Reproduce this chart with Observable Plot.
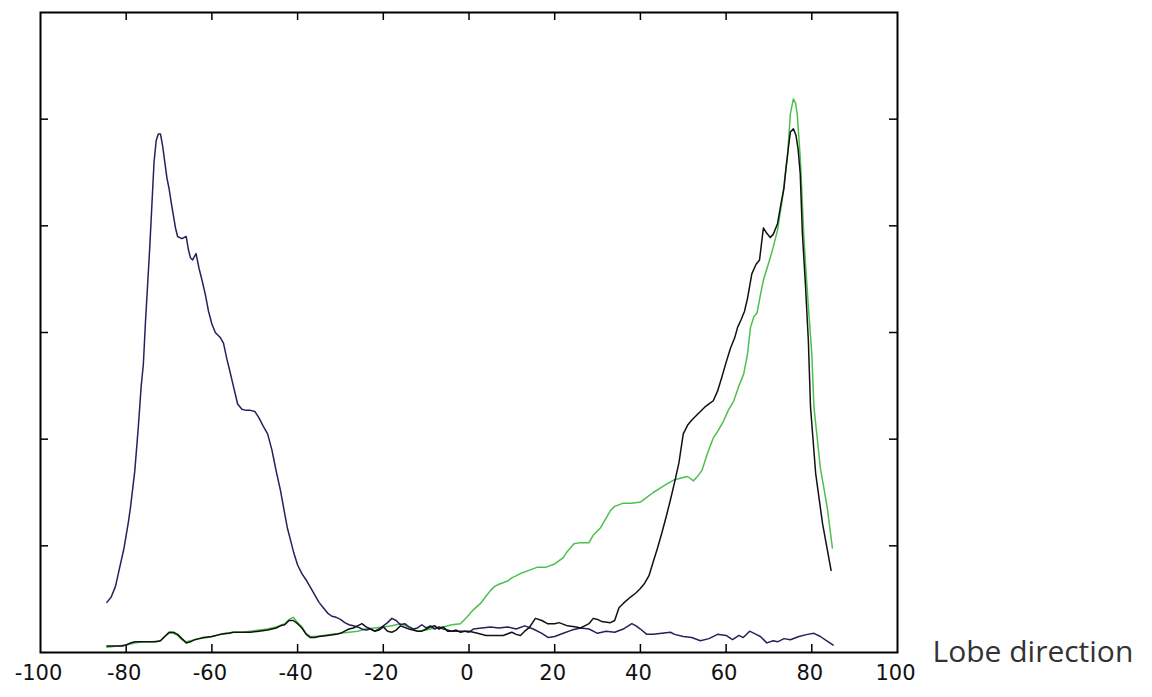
<!DOCTYPE html>
<html>
<head>
<meta charset="utf-8">
<script src="https://cdn.jsdelivr.net/npm/d3@7"></script>
<script src="https://cdn.jsdelivr.net/npm/@observablehq/plot@0.6"></script>
<style>
  html, body { margin: 0; padding: 0; background: #fff; }
  #chart svg { display: block; }
</style>
</head>
<body>
<div id="chart"></div>
<script>
// Tick values (x labelled, y unlabelled)
const xTicks = [-100, -80, -60, -40, -20, 0, 20, 40, 60, 80, 100];
const yTicks = [1, 2, 3, 4, 5];
const xLabel = "Lobe direction";

// Navy series (peak near -72)
const navy = [
  [-84.5,0.47],[-83.5,0.52],[-82.5,0.62],[-81.5,0.8],[-80.5,0.98],[-79.5,1.22],[-79,1.36],[-78,1.7],
  [-77.2,2.1],[-76.5,2.5],[-76,2.7],[-75.5,3.1],[-75,3.45],[-74.5,3.8],[-74,4.2],[-73.5,4.6],[-73,4.8],
  [-72.5,4.86],[-72,4.86],[-71.5,4.75],[-71,4.6],[-70.5,4.45],[-70,4.35],[-69.5,4.22],[-69,4.1],
  [-68.5,3.98],[-68,3.9],[-67,3.88],[-66,3.9],[-65.5,3.78],[-65,3.7],[-64.5,3.68],[-63.7,3.74],
  [-63,3.6],[-62.3,3.49],[-61.5,3.35],[-60.8,3.2],[-60,3.08],[-59.2,3.0],[-58,2.95],[-57.3,2.9],
  [-56.5,2.75],[-56,2.67],[-55,2.5],[-54,2.33],[-53,2.28],[-52,2.27],[-51,2.27],[-50,2.26],[-49,2.2],
  [-48,2.12],[-47,2.05],[-46,1.9],[-45.5,1.8],[-45,1.7],[-44,1.52],[-43,1.3],[-42.4,1.17],[-41.5,1.03],
  [-41,0.95],[-40,0.82],[-39,0.74],[-38,0.68],[-37,0.61],[-36,0.54],[-35,0.47],[-34,0.42],[-33,0.37],
  [-32,0.34],[-31,0.33],[-30,0.31],[-29,0.28],[-28,0.26],[-27,0.25],[-26,0.24],[-25,0.22],[-24,0.21],
  [-23,0.22],[-22,0.2],[-21,0.22],[-20,0.25],[-19,0.28],[-18,0.32],[-17,0.3],[-16,0.26],[-15,0.27],
  [-14,0.24],[-13,0.22],[-12,0.23],[-11,0.26],[-10,0.23],[-9,0.25],[-8,0.22],[-7,0.24],[-6,0.22],
  [-5,0.21],[-4,0.2],[-3,0.2],[-2,0.2],[-1,0.2],[0,0.19],[1,0.22],[3,0.23],[5,0.24],[7,0.23],[9,0.24],
  [11,0.22],[13,0.25],[15,0.22],[17,0.18],[18.5,0.14],[20,0.15],[22,0.18],[24,0.21],[26,0.23],[28,0.22],
  [30,0.18],[32,0.2],[34,0.19],[36,0.22],[38,0.27],[39,0.25],[40,0.22],[41.5,0.17],[43,0.17],[45,0.18],
  [47,0.19],[48,0.17],[50,0.15],[52,0.14],[54,0.11],[56,0.13],[58,0.17],[60,0.16],[61.5,0.12],[63,0.16],
  [64,0.14],[65.5,0.2],[67,0.17],[68,0.15],[69.5,0.09],[71,0.11],[72,0.1],[73.5,0.13],[75,0.12],[77,0.15],
  [79,0.17],[80.5,0.18],[82,0.15],[83.5,0.11],[85,0.07]
];

// Black series (peak near 76)
const black = [
  [-84.5,0.06],[-83,0.06],[-81,0.06],[-80,0.07],[-79,0.09],[-78,0.1],[-76.5,0.1],[-75,0.1],[-73,0.1],
  [-72,0.11],[-71,0.15],[-70,0.19],[-69,0.19],[-68,0.17],[-67,0.13],[-66,0.09],[-65,0.1],[-64,0.12],
  [-63,0.13],[-62,0.14],[-60,0.15],[-58,0.17],[-56,0.18],[-55,0.19],[-53,0.19],[-51,0.19],[-49,0.2],
  [-47,0.21],[-45,0.23],[-44,0.25],[-43,0.26],[-42,0.3],[-41,0.3],[-40,0.27],[-39,0.23],[-38,0.17],
  [-37,0.14],[-36,0.14],[-35,0.15],[-33,0.16],[-31,0.17],[-30,0.18],[-29,0.2],[-28,0.22],[-27,0.23],
  [-26,0.25],[-25,0.27],[-24,0.24],[-23,0.22],[-22,0.2],[-21,0.21],[-20,0.24],[-19,0.2],[-18,0.19],
  [-17,0.21],[-16,0.25],[-14,0.22],[-12,0.2],[-11,0.2],[-10,0.22],[-9,0.24],[-8,0.25],[-7,0.22],
  [-6,0.24],[-5,0.2],[-4,0.2],[-3,0.21],[-2,0.19],[-1,0.2],[0,0.2],[1,0.19],[2,0.18],[4,0.16],[6,0.16],
  [8,0.16],[10,0.19],[11,0.17],[12,0.16],[13,0.2],[14,0.23],[15.5,0.32],[17,0.3],[18.3,0.27],[20,0.27],
  [21,0.28],[23,0.25],[25,0.24],[26,0.23],[27,0.25],[28,0.27],[29,0.32],[30,0.31],[31,0.29],[33,0.28],
  [34,0.3],[35,0.42],[36,0.46],[37.7,0.52],[39,0.56],[40,0.6],[41,0.65],[42,0.72],[43,0.85],[44,0.98],
  [45,1.12],[46,1.27],[47,1.43],[48,1.6],[49,1.78],[50,2.05],[51,2.13],[52,2.18],[53,2.22],[54,2.26],
  [55,2.3],[56,2.33],[57,2.36],[58,2.45],[59,2.58],[60,2.72],[61,2.85],[62,2.95],[62.7,3.05],[63.5,3.12],
  [64.3,3.2],[65,3.32],[66,3.55],[67,3.64],[67.8,3.68],[68.7,3.98],[69.5,3.93],[70.3,3.89],[71,3.92],
  [72,4.02],[73,4.25],[73.5,4.35],[74,4.55],[74.5,4.72],[75,4.88],[75.7,4.91],[76.3,4.85],[76.8,4.72],
  [77.3,4.49],[77.8,3.93],[78.5,3.46],[79.2,2.92],[79.7,2.3],[80.9,1.68],[82.5,1.21],[84.5,0.77]
];

// Green series (peak near 76)
const green = [
  [-84.5,0.05],[-82,0.06],[-80,0.07],[-78,0.09],[-76,0.1],[-74,0.1],[-72,0.11],[-71,0.15],[-70,0.18],
  [-69,0.18],[-68,0.16],[-67,0.12],[-66,0.1],[-65,0.11],[-63,0.13],[-61,0.14],[-59,0.16],[-57,0.18],
  [-55,0.19],[-53,0.19],[-51,0.2],[-49,0.21],[-47,0.22],[-45,0.24],[-43,0.27],[-42,0.31],[-41,0.33],
  [-40,0.28],[-39,0.24],[-38,0.18],[-37,0.15],[-36,0.15],[-34,0.16],[-32,0.17],[-30,0.18],[-28,0.19],
  [-26,0.2],[-24,0.22],[-22,0.23],[-20,0.24],[-18,0.25],[-16,0.27],[-14,0.24],[-12,0.2],[-10,0.21],
  [-8,0.23],[-6,0.24],[-4,0.26],[-2,0.27],[-0.5,0.33],[1,0.4],[2.7,0.46],[4,0.53],[5,0.58],[6,0.62],
  [7,0.64],[9,0.67],[10,0.7],[12,0.74],[14,0.77],[16,0.8],[18,0.8],[20,0.83],[22,0.89],[23,0.95],
  [24.5,1.02],[26,1.03],[28,1.03],[29,1.1],[30.7,1.17],[32,1.26],[33,1.33],[34,1.37],[36,1.4],[38,1.4],
  [40,1.41],[41,1.44],[43,1.5],[45,1.55],[46.2,1.58],[48,1.62],[50,1.64],[51,1.65],[52.4,1.61],[53.5,1.66],
  [54.4,1.71],[55.6,1.86],[57,2.01],[58,2.07],[59.4,2.17],[60.5,2.27],[61.8,2.36],[63,2.5],[64.1,2.61],
  [65,2.8],[65.7,3.05],[66.5,3.15],[67.2,3.18],[68,3.35],[68.7,3.49],[70.3,3.7],[71,3.8],[72,3.96],
  [73.1,4.24],[73.7,4.45],[74.3,4.64],[75,5.05],[75.7,5.19],[76.2,5.15],[76.6,5.05],[77.3,4.64],
  [77.7,4.3],[78.1,3.93],[78.6,3.6],[79.2,3.24],[80,2.8],[80.5,2.3],[82,1.73],[83.6,1.36],[84.8,0.98]
];

const toRows = arr => arr.map(([x, y]) => ({x, y}));

const W = 1152, H = 697;
const mL = 40, mR = 255, mT = 12, mB = 45;
const tickPx = 8;
const xDom = [-100, 100], yDom = [0, 6];
const tx = tickPx * (xDom[1] - xDom[0]) / (W - mL - mR);
const ty = tickPx * (yDom[1] - yDom[0]) / (H - mT - mB);
const innerX = xTicks.filter(d => d > xDom[0] && d < xDom[1]);

const chart = Plot.plot({
  width: W,
  height: H,
  marginLeft: mL,
  marginRight: mR,
  marginTop: mT,
  marginBottom: mB,
  x: {domain: xDom, label: null},
  y: {domain: yDom, label: null},
  style: {fontFamily: "DejaVu Sans", fontSize: "21px", color: "#111", background: "#fff"},
  marks: [
    Plot.axisX({ticks: xTicks, tickSize: 0, tickPadding: 13, tickFormat: d => String(d), dx: -2, fontSize: 21, fill: "#111", label: null}),
    Plot.axisY({ticks: [], label: null}),
    // inward ticks: bottom, top, left, right
    Plot.ruleX(innerX, {x: d => d, y1: yDom[0], y2: yDom[0] + ty, stroke: "#000", strokeWidth: 1.5}),
    Plot.ruleX(innerX, {x: d => d, y1: yDom[1], y2: yDom[1] - ty, stroke: "#000", strokeWidth: 1.5}),
    Plot.ruleY(yTicks, {y: d => d, x1: xDom[0], x2: xDom[0] + tx, stroke: "#000", strokeWidth: 1.5}),
    Plot.ruleY(yTicks, {y: d => d, x1: xDom[1], x2: xDom[1] - tx, stroke: "#000", strokeWidth: 1.5}),
    Plot.line(toRows(green), {x: "x", y: "y", stroke: "#4cc04c", strokeWidth: 1.5}),
    Plot.line(toRows(navy), {x: "x", y: "y", stroke: "#22225c", strokeWidth: 1.5}),
    Plot.line(toRows(black), {x: "x", y: "y", stroke: "#111111", strokeWidth: 1.5}),
    Plot.frame({stroke: "#000", strokeWidth: 2}),
    Plot.text([xLabel], {x: xDom[1], y: yDom[0], text: d => d, dx: 35, dy: 0, textAnchor: "start", lineAnchor: "middle", fontFamily: "Open Sans", fontSize: 30, fill: "#333"})
  ]
});

document.getElementById("chart").appendChild(chart);
</script>
</body>
</html>
